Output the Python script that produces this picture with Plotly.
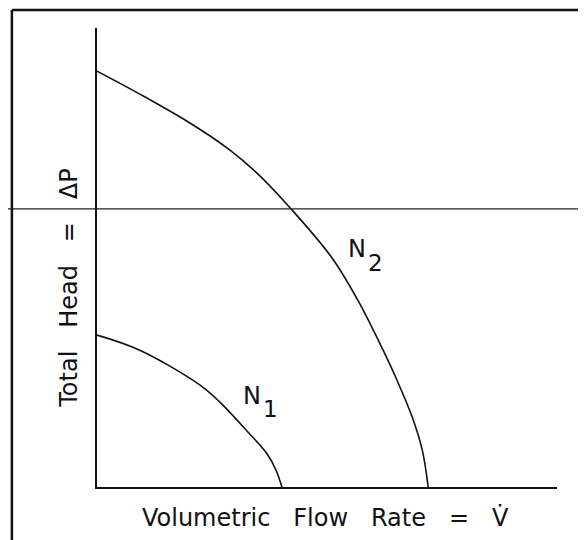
import plotly.graph_objects as go

# pump curves (flow, head) in arbitrary units 0..10
flow_n2 = [0.0, 0.93, 2.02, 2.89, 3.54, 4.20, 5.11, 5.67, 6.22, 6.52, 6.85, 7.07, 7.20]
head_n2 = [9.06, 8.56, 7.93, 7.34, 6.78, 6.08, 4.99, 4.07, 2.98, 2.33, 1.53, 0.81, 0.0]

flow_n1 = [0.0, 0.93, 2.24, 2.67, 3.28, 3.70, 3.89, 4.02]
head_n1 = [3.31, 2.98, 2.22, 1.85, 1.20, 0.72, 0.37, 0.0]

system_head = 6.06

curve_names = ['N', 'N']
curve_subs = ['1', '2']
label_flow = [3.58, 5.87]
name_head = [1.98, 5.19]
sub_head = [1.69, 4.88]

x_title = 'Volumetric\u00a0\u00a0\u00a0Flow\u00a0\u00a0\u00a0Rate\u00a0\u00a0\u00a0=\u00a0\u00a0\u00a0V\u0307'
y_title = 'Total\u00a0\u00a0\u00a0Head\u00a0\u00a0\u00a0=\u00a0\u00a0\u00a0\u0394P'

ink = '#111111'
fnt = 'DejaVu Sans'

fig = go.Figure()
fig.add_trace(go.Scatter(x=flow_n2, y=head_n2, mode='lines',
                         line=dict(color=ink, width=1.6, shape='spline', smoothing=1)))
fig.add_trace(go.Scatter(x=flow_n1, y=head_n1, mode='lines',
                         line=dict(color=ink, width=1.6, shape='spline', smoothing=1)))

# horizontal line runs across the whole page
fig.add_shape(type='line', xref='paper', yref='y', x0=-0.25, x1=1.1,
              y0=system_head, y1=system_head, line=dict(color='#222222', width=1.4))

# frame of the scanned figure (left and top edges only)
fig.add_shape(type='line', xref='paper', yref='paper', x0=-0.185, x1=-0.185,
              y0=-0.2, y1=1.039, line=dict(color=ink, width=2.5))
fig.add_shape(type='line', xref='paper', yref='paper', x0=-0.185, x1=1.1,
              y0=1.039, y1=1.039, line=dict(color=ink, width=2.5))

# "N" ends where its subscript starts
for name, sub, xv, yn, ys in zip(curve_names, curve_subs, label_flow, name_head, sub_head):
    fig.add_annotation(x=xv, y=yn, text=name, showarrow=False, xanchor='right', yanchor='middle',
                       borderpad=0, font=dict(family=fnt, size=24, color=ink))
    fig.add_annotation(x=xv, y=ys, text=sub, showarrow=False, xanchor='left', yanchor='middle',
                       borderpad=0, font=dict(family=fnt, size=23, color=ink))

fig.add_annotation(xref='paper', yref='paper', x=0.496, y=-0.068, text=x_title,
                   xanchor='center', yanchor='middle',
                   showarrow=False, font=dict(family=fnt, size=24, color=ink))
fig.add_annotation(xref='paper', yref='paper', x=-0.061, y=0.434, text=y_title, textangle=-90,
                   xanchor='center', yanchor='middle',
                   showarrow=False, font=dict(family=fnt, size=24, color=ink))

axis_style = dict(range=[0, 10], showline=True, linewidth=2, linecolor=ink, showgrid=False,
                  zeroline=False, showticklabels=False, ticks='')
fig.update_xaxes(**axis_style)
fig.update_yaxes(**axis_style)

# page body adds 8px, so margins are pulled in by that much
fig.update_layout(width=586, height=540, showlegend=False,
                  margin=dict(l=89, r=37, t=20, b=61),
                  paper_bgcolor='white', plot_bgcolor='white')

fig.write_html("out.html")
